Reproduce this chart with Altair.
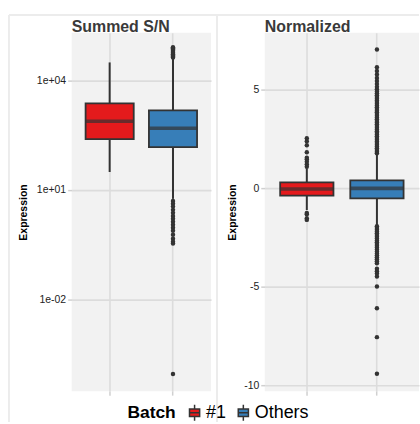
import altair as alt
import pandas as pd

FONT = "Liberation Sans"

batches = ["#1", "Others"]
batch_colors = ["#E41A1C", "#377EB8"]

# Summed S/N: box statistics per batch (log10 axis)
sn_lower = [31, 5.7]
sn_q1 = [245, 148]
sn_median = [760, 490]
sn_q3 = [2360, 1510]
sn_upper = [31000, 40000]
sn_out_batch1 = []
sn_out_others = [42000, 45000, 48000, 52000, 56000, 60000, 65000, 70000, 76000, 81000,
                 5.0, 4.2, 3.5, 2.85, 2.36, 1.95, 1.62, 1.34, 1.11, 0.92,
                 0.76, 0.59, 0.46, 0.38, 0.34, 0.000091]
sn_ticks = [0.01, 10, 10000]
sn_tick_labels = ["1e-02", "1e+01", "1e+04"]
sn_domain = [3.1e-5, 2.0e5]

# Normalized: box statistics per batch (linear axis)
nm_lower = [-1.1, -1.86]
nm_q1 = [-0.37, -0.51]
nm_median = [-0.03, 0.0]
nm_q3 = [0.3, 0.41]
nm_upper = [1.01, 1.73]
nm_out_batch1 = [1.1, 1.22, 1.35, 1.48, 1.55, 1.83, 2.19, 2.39, 2.54,
                 -1.25, -1.31, -1.52, -1.6]
nm_out_others = [1.78, 1.86, 1.95, 2.04, 2.12, 2.21, 2.3, 2.38, 2.47, 2.56,
                 2.64, 2.73, 2.82, 2.9, 2.99, 3.08, 3.16, 3.25, 3.34, 3.42,
                 3.51, 3.6, 3.68, 3.77, 3.86, 3.94, 4.03, 4.12, 4.2, 4.29,
                 4.38, 4.46, 4.55, 4.64, 4.73, 4.82, 4.92, 5.03, 5.15, 5.3,
                 5.45, 5.6, 5.78, 5.95, 6.15, 7.05,
                 -1.92, -2.01, -2.1, -2.19, -2.28, -2.37, -2.46, -2.55, -2.64, -2.73,
                 -2.82, -2.91, -3.0, -3.1, -3.2, -3.3, -3.4, -3.5, -3.6, -3.7, -3.8,
                 -4.08, -4.2, -4.32, -4.47, -4.98, -6.08, -7.55, -9.41]
nm_ticks = [-10, -5, 0, 5]
nm_tick_labels = ["-10", "-5", "0", "5"]
nm_domain = [-10.29, 7.89]

PAD_INNER = 0.24
PAD_OUTER = 0.22
PLOT_H = 360

color_scale = alt.Scale(domain=batches, range=batch_colors)
legend = alt.Legend(
    title="Batch", orient="none", legendX=56, legendY=372,
    direction="horizontal", titleOrient="left", titlePadding=9,
    titleFontSize=17.5, titleFont=FONT, titleFontWeight="bold", titleColor="#000",
    titleBaseline="middle",
    labelFontSize=18, labelFont=FONT, labelColor="#000", labelOffset=2,
    columnPadding=7, symbolSize=289,
    symbolType="M-0.6,-0.45H0.6V0.45H-0.6Z M-0.6,0H0.6 M0,-0.45V-0.95 M0,0.45V0.95",
    symbolStrokeColor="#333333", symbolStrokeWidth=1.5,
)


def label_expr(ticks, labels):
    parts = [f"datum.value == {t} ? '{l}'" for t, l in zip(ticks, labels)]
    return " : ".join(parts) + " : ''"


def panel(title, lower, q1, median, q3, upper, out1, out2, width, domain, log,
          ticks, tick_labels, title_pad, frames):
    stats = pd.DataFrame({"batch": batches, "lower": lower, "q1": q1,
                          "median": median, "q3": q3, "upper": upper})
    outl = pd.DataFrame({"batch": ["#1"] * len(out1) + ["Others"] * len(out2),
                         "value": out1 + out2})
    step = width / (2 - PAD_INNER + 2 * PAD_OUTER)
    band = step * (1 - PAD_INNER)

    x = alt.X("batch:N", sort=batches,
              scale=alt.Scale(domain=batches, paddingInner=PAD_INNER, paddingOuter=PAD_OUTER),
              axis=alt.Axis(labels=False, title=None, ticks=True, domain=False, grid=True))
    yscale = alt.Scale(type="log", domain=domain, nice=False) if log else \
        alt.Scale(domain=domain, nice=False, zero=False)
    yaxis = alt.Axis(title="Expression", values=ticks,
                     labelExpr=label_expr(ticks, tick_labels), titlePadding=title_pad)

    whisk = alt.Chart(stats).mark_rule(color="#333333", strokeWidth=2).encode(
        x=x, y=alt.Y("lower:Q", scale=yscale, axis=yaxis), y2="upper:Q")
    box = alt.Chart(stats).mark_bar(stroke="#333333", strokeWidth=1.8).encode(
        x=x, y="q1:Q", y2="q3:Q",
        fill=alt.Fill("batch:N", scale=color_scale, legend=legend))
    med = alt.Chart(stats).mark_tick(color="#333333", thickness=3.6, size=band).encode(
        x=x, y="median:Q")
    pts = alt.Chart(outl).mark_circle(color="#333333", size=20, opacity=1).encode(
        x=x, y="value:Q")

    one = alt.Data(values=[{"k": 0}])
    layers = []
    for fx, fy, fx2, fy2 in frames:
        enc = dict(x=alt.value(fx), y=alt.value(fy))
        if fx2 is not None:
            enc["x2"] = alt.value(fx2)
        if fy2 is not None:
            enc["y2"] = alt.value(fy2)
        layers.append(alt.Chart(one).mark_rule(color="#ECECEC", strokeWidth=2).encode(**enc))
    # panel heading, sitting on the top edge of the plot area
    heading = alt.Chart(one).mark_text(
        text=title, align="left", baseline="alphabetic", font=FONT, fontSize=16,
        fontWeight="bold", color="#3a3a3a",
    ).encode(x=alt.value(0), y=alt.value(-1))
    layers += [heading, whisk, box, med, pts]

    return alt.layer(*layers).properties(width=width, height=PLOT_H)


left = panel("Summed S/N", sn_lower, sn_q1, sn_median, sn_q3, sn_upper,
             sn_out_batch1, sn_out_others, 140, sn_domain, True,
             sn_ticks, sn_tick_labels, 8,
             frames=[(-63, -18, None, 391), (-63, -18, 349, None), (146, -18, None, 391)])
right = panel("Normalized", nm_lower, nm_q1, nm_median, nm_q3, nm_upper,
              nm_out_batch1, nm_out_others, 155, nm_domain, False,
              nm_ticks, nm_tick_labels, 6.5, frames=[])

chart = alt.hconcat(left, right, spacing=54, bounds="flush").properties(
    padding={"left": 8, "top": 13, "right": 0, "bottom": 0}
).configure_view(fill="#F2F2F2", stroke=None).configure_axis(
    gridColor="#DCDCDC", gridWidth=1.6, domain=False,
    tickColor="#D0D0D0", tickSize=4, tickWidth=1.5,
    labelFont=FONT, labelFontSize=10.5, labelColor="#222222", labelPadding=2,
    titleFont=FONT, titleFontSize=10.5, titleFontWeight="bold", titleColor="#000000",
)

chart.save("out.html", embed_options={"renderer": "svg", "actions": False})
